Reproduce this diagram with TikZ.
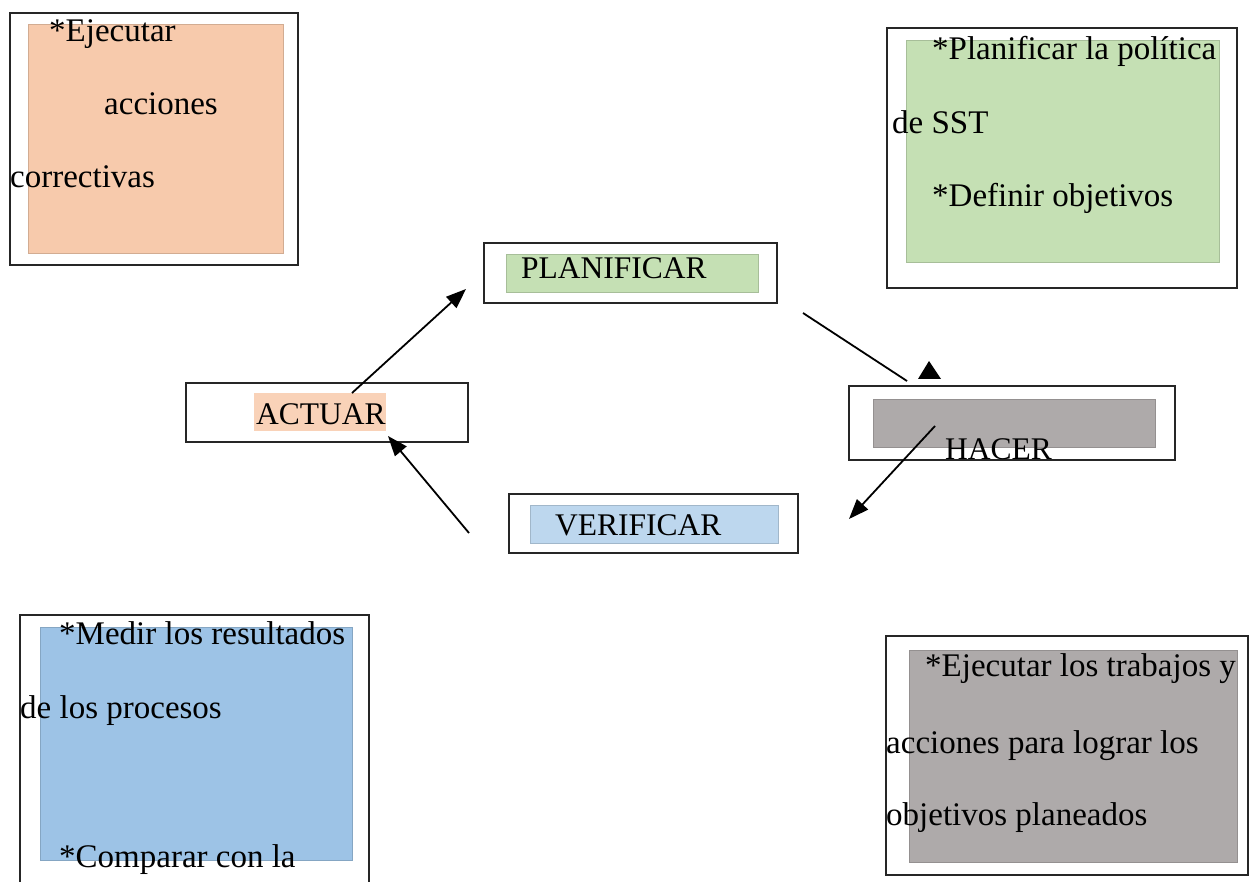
\documentclass[tikz,border=0pt]{standalone}
\usepackage{fontspec}
\setmainfont{Liberation Serif}
\usetikzlibrary{arrows.meta}
\definecolor{peach}{HTML}{F7CAAC}
\definecolor{peachlight}{HTML}{F9D2B8}
\definecolor{sage}{HTML}{C5E0B4}
\definecolor{skyA}{HTML}{9DC3E6}
\definecolor{skyB}{HTML}{BDD7EE}
\definecolor{stone}{HTML}{AEAAAA}
\tikzset{
  frame/.style={draw=black!85, line width=2.2pt, inner sep=0pt, outer sep=0pt},
  panel/.style={inner sep=0pt, outer sep=0pt, draw=#1!85!black, line width=0.6pt, fill=#1},
  bigtext/.style={inner sep=0pt, anchor=base west, font=\fontsize{33}{40}\selectfont},
  labeltext/.style={inner sep=0pt, anchor=base west, font=\fontsize{31.5}{38}\selectfont},
  conn/.style={line width=1.8pt, draw=black, -{Triangle[length=20pt,width=15pt]}},
  plainconn/.style={line width=1.8pt, draw=black}
}
\begin{document}
\begin{tikzpicture}[x=1pt,y=-1pt]
\useasboundingbox (0,0) rectangle (1250,882);
\fill[white] (0,0) rectangle (1250,882);

% ---- top-left box (ACTUAR details)
\node[frame, minimum width=288pt, minimum height=252pt] (b1) at (154,139) {};
\node[panel=peach, minimum width=255pt, minimum height=229pt] (b1p) at (155.5,138.5) {};
\node[bigtext] (b1l1) at (49,42) {*Ejecutar};
\node[bigtext] (b1l2) at (104,115) {acciones};
\node[bigtext] (b1l3) at (10,188) {correctivas};

% ---- top-right box (PLANIFICAR details)
\node[frame, minimum width=350pt, minimum height=260pt] (b2) at (1062,158) {};
\node[panel=sage, minimum width=313pt, minimum height=222pt] (b2p) at (1062.5,151) {};
\node[bigtext] (b2l1) at (932,60) {*Planificar la política};
\node[bigtext] (b2l2) at (892,134) {de SST};
\node[bigtext] (b2l3) at (932,207) {*Definir objetivos};

% ---- bottom-left box (VERIFICAR details)
\draw[line width=2.2pt, draw=black!85] (20,884) -- (20,615) coordinate (b3tl) -- (369,615) coordinate (b3tr) -- (369,884);
\node[panel=skyA, minimum width=312pt, minimum height=233pt] (b3p) at (196,743.5) {};
\node[bigtext] (b3l1) at (59,644) {*Medir los resultados};
\node[bigtext] (b3l2) at (20,718) {de los procesos};
\node[bigtext] (b3l3) at (59,867) {*Comparar con la};

% ---- bottom-right box (HACER details)
\node[frame, minimum width=362pt, minimum height=239pt] (b4) at (1067,755.5) {};
\node[panel=stone, minimum width=328pt, minimum height=212pt] (b4p) at (1073,756) {};
\node[bigtext] (b4l1) at (925,676) {*Ejecutar los trabajos y};
\node[bigtext] (b4l2) at (886,753) {acciones para lograr los};
\node[bigtext] (b4l3) at (886,825) {objetivos planeados};

% ---- PLANIFICAR
\node[frame, minimum width=293pt, minimum height=60pt] (plan) at (630.5,273) {};
\node[panel=sage, minimum width=252pt, minimum height=38pt] (planp) at (632,273) {};
\node[labeltext] (plant) at (521,279) {PLANIFICAR};

% ---- ACTUAR
\node[frame, minimum width=282pt, minimum height=59pt] (act) at (327,412.5) {};
\node[panel=peachlight, draw=none, minimum width=132pt, minimum height=38pt] (actp) at (320,412) {};
\node[labeltext] (actt) at (256,424) {ACTUAR};

% ---- VERIFICAR
\node[frame, minimum width=289pt, minimum height=59pt] (ver) at (653.5,523.5) {};
\node[panel=skyB, minimum width=248pt, minimum height=38pt] (verp) at (654,524) {};
\node[labeltext] (vert) at (555,535) {VERIFICAR};

% ---- HACER
\node[frame, minimum width=326pt, minimum height=74pt] (hac) at (1012,423) {};
\node[panel=stone, minimum width=282pt, minimum height=48pt] (hacp) at (1014,423) {};
\node[labeltext] (hact) at (945,459) {HACER};

% ---- connectors
\coordinate (a1s) at (352,393);
\coordinate (a1e) at (466,289);
\draw[conn] (a1s) -- (a1e);

\coordinate (a2s) at (803,313);
\coordinate (a2e) at (907,381);
\draw[plainconn] (a2s) -- (a2e);
\coordinate (tipA) at (929,361);
\coordinate (tipB) at (918,379);
\coordinate (tipC) at (941,379);
\fill[black] (tipA) -- (tipB) -- (tipC) -- cycle;

\coordinate (a3s) at (935,426);
\coordinate (a3e) at (849,519);
\draw[conn] (a3s) -- (a3e);

\coordinate (a4s) at (469,533);
\coordinate (a4e) at (388,436);
\draw[conn] (a4s) -- (a4e);
\end{tikzpicture}
\end{document}
